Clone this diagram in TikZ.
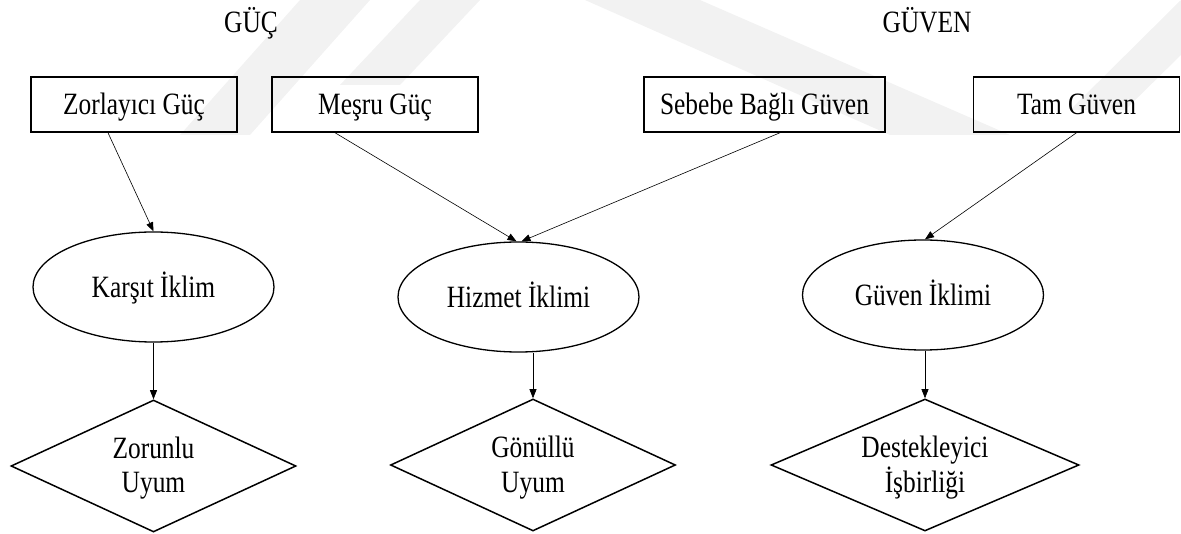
\documentclass[tikz,border=0pt]{standalone}
\usepackage{fontspec}
\setmainfont{Liberation Serif}[FakeStretch=0.82]
\usetikzlibrary{shapes.geometric,arrows.meta,calc}
\begin{document}
\begin{tikzpicture}[x=1pt,y=-1pt,
  every node/.style={font=\fontsize{31}{35}\selectfont},
  boxnode/.style={draw,line width=1.5pt,minimum width=206pt,minimum height=55pt,inner sep=0pt,text height=25pt,text depth=5pt},
  ellnode/.style={ellipse,draw,line width=1.3pt,minimum width=241pt,minimum height=110pt,inner sep=0pt,text height=25pt,text depth=4pt},
  dianode/.style={diamond,aspect=2.5,draw,line width=1.5pt,minimum width=285pt,minimum height=132pt,inner sep=0pt,align=center,text height=61pt,text depth=7pt},
  conn/.style={line width=0.6pt,-{Triangle[length=9pt,width=7pt]}},
  wm/.style={fill=black!5,draw=none}]
\useasboundingbox (0,0) rectangle (1181,534);
% faint watermark bands
\fill[wm] (300,0) -- (370,0) -- (250,135) -- (180,135) -- cycle;
\fill[wm] (420,0) -- (480,0) -- (400,85) -- (340,85) -- cycle;
\fill[wm] (585,0) -- (700,0) -- (1010,135) -- (890,135) -- cycle;
\fill[wm] (1181,0) -- (1181,55) -- (1125,110) -- (1070,110) -- cycle;
% titles
\node[anchor=base] (guc) at (251,33) {GÜÇ};
\node[anchor=base] (guven) at (927,33) {GÜVEN};
% top boxes
\node[boxnode] (zor) at (134,104.5) {Zorlayıcı Güç};
\node[boxnode] (mes) at (375,104.5) {Meşru Güç};
\node[boxnode,minimum width=241pt] (seb) at (764.5,104.5) {Sebebe Bağlı Güven};
\node[boxnode] (tam) at (1076.5,104.5) {Tam Güven};
% climates
\node[ellnode] (kar) at (153.5,287) {Karşıt İklim};
\node[ellnode] (hiz) at (518.5,297) {Hizmet İklimi};
\node[ellnode] (guv) at (923,295) {Güven İklimi};
% outcomes
\node[dianode] (zoru) at (153.5,466) {Zorunlu\\Uyum};
\node[dianode] (gon) at (533,465) {Gönüllü\\Uyum};
\node[dianode,minimum width=308pt] (des) at (925,465) {Destekleyici\\İşbirliği};
% connectors
\draw[conn] ([xshift=-26pt]zor.south) -- (kar.north);
\draw[conn] ([xshift=-40pt]mes.south) -- ([xshift=-2pt]hiz.north);
\draw[conn] ([xshift=15.5pt]seb.south) -- ([xshift=3pt]hiz.north);
\draw[conn] (tam.south) -- ([xshift=2pt]guv.north);
\draw[conn] (kar.south) -- (zoru.north);
\draw[conn] (hiz.south -| gon.north) -- (gon.north);
\draw[conn] (guv.south -| des.north) -- (des.north);
\end{tikzpicture}
\end{document}
